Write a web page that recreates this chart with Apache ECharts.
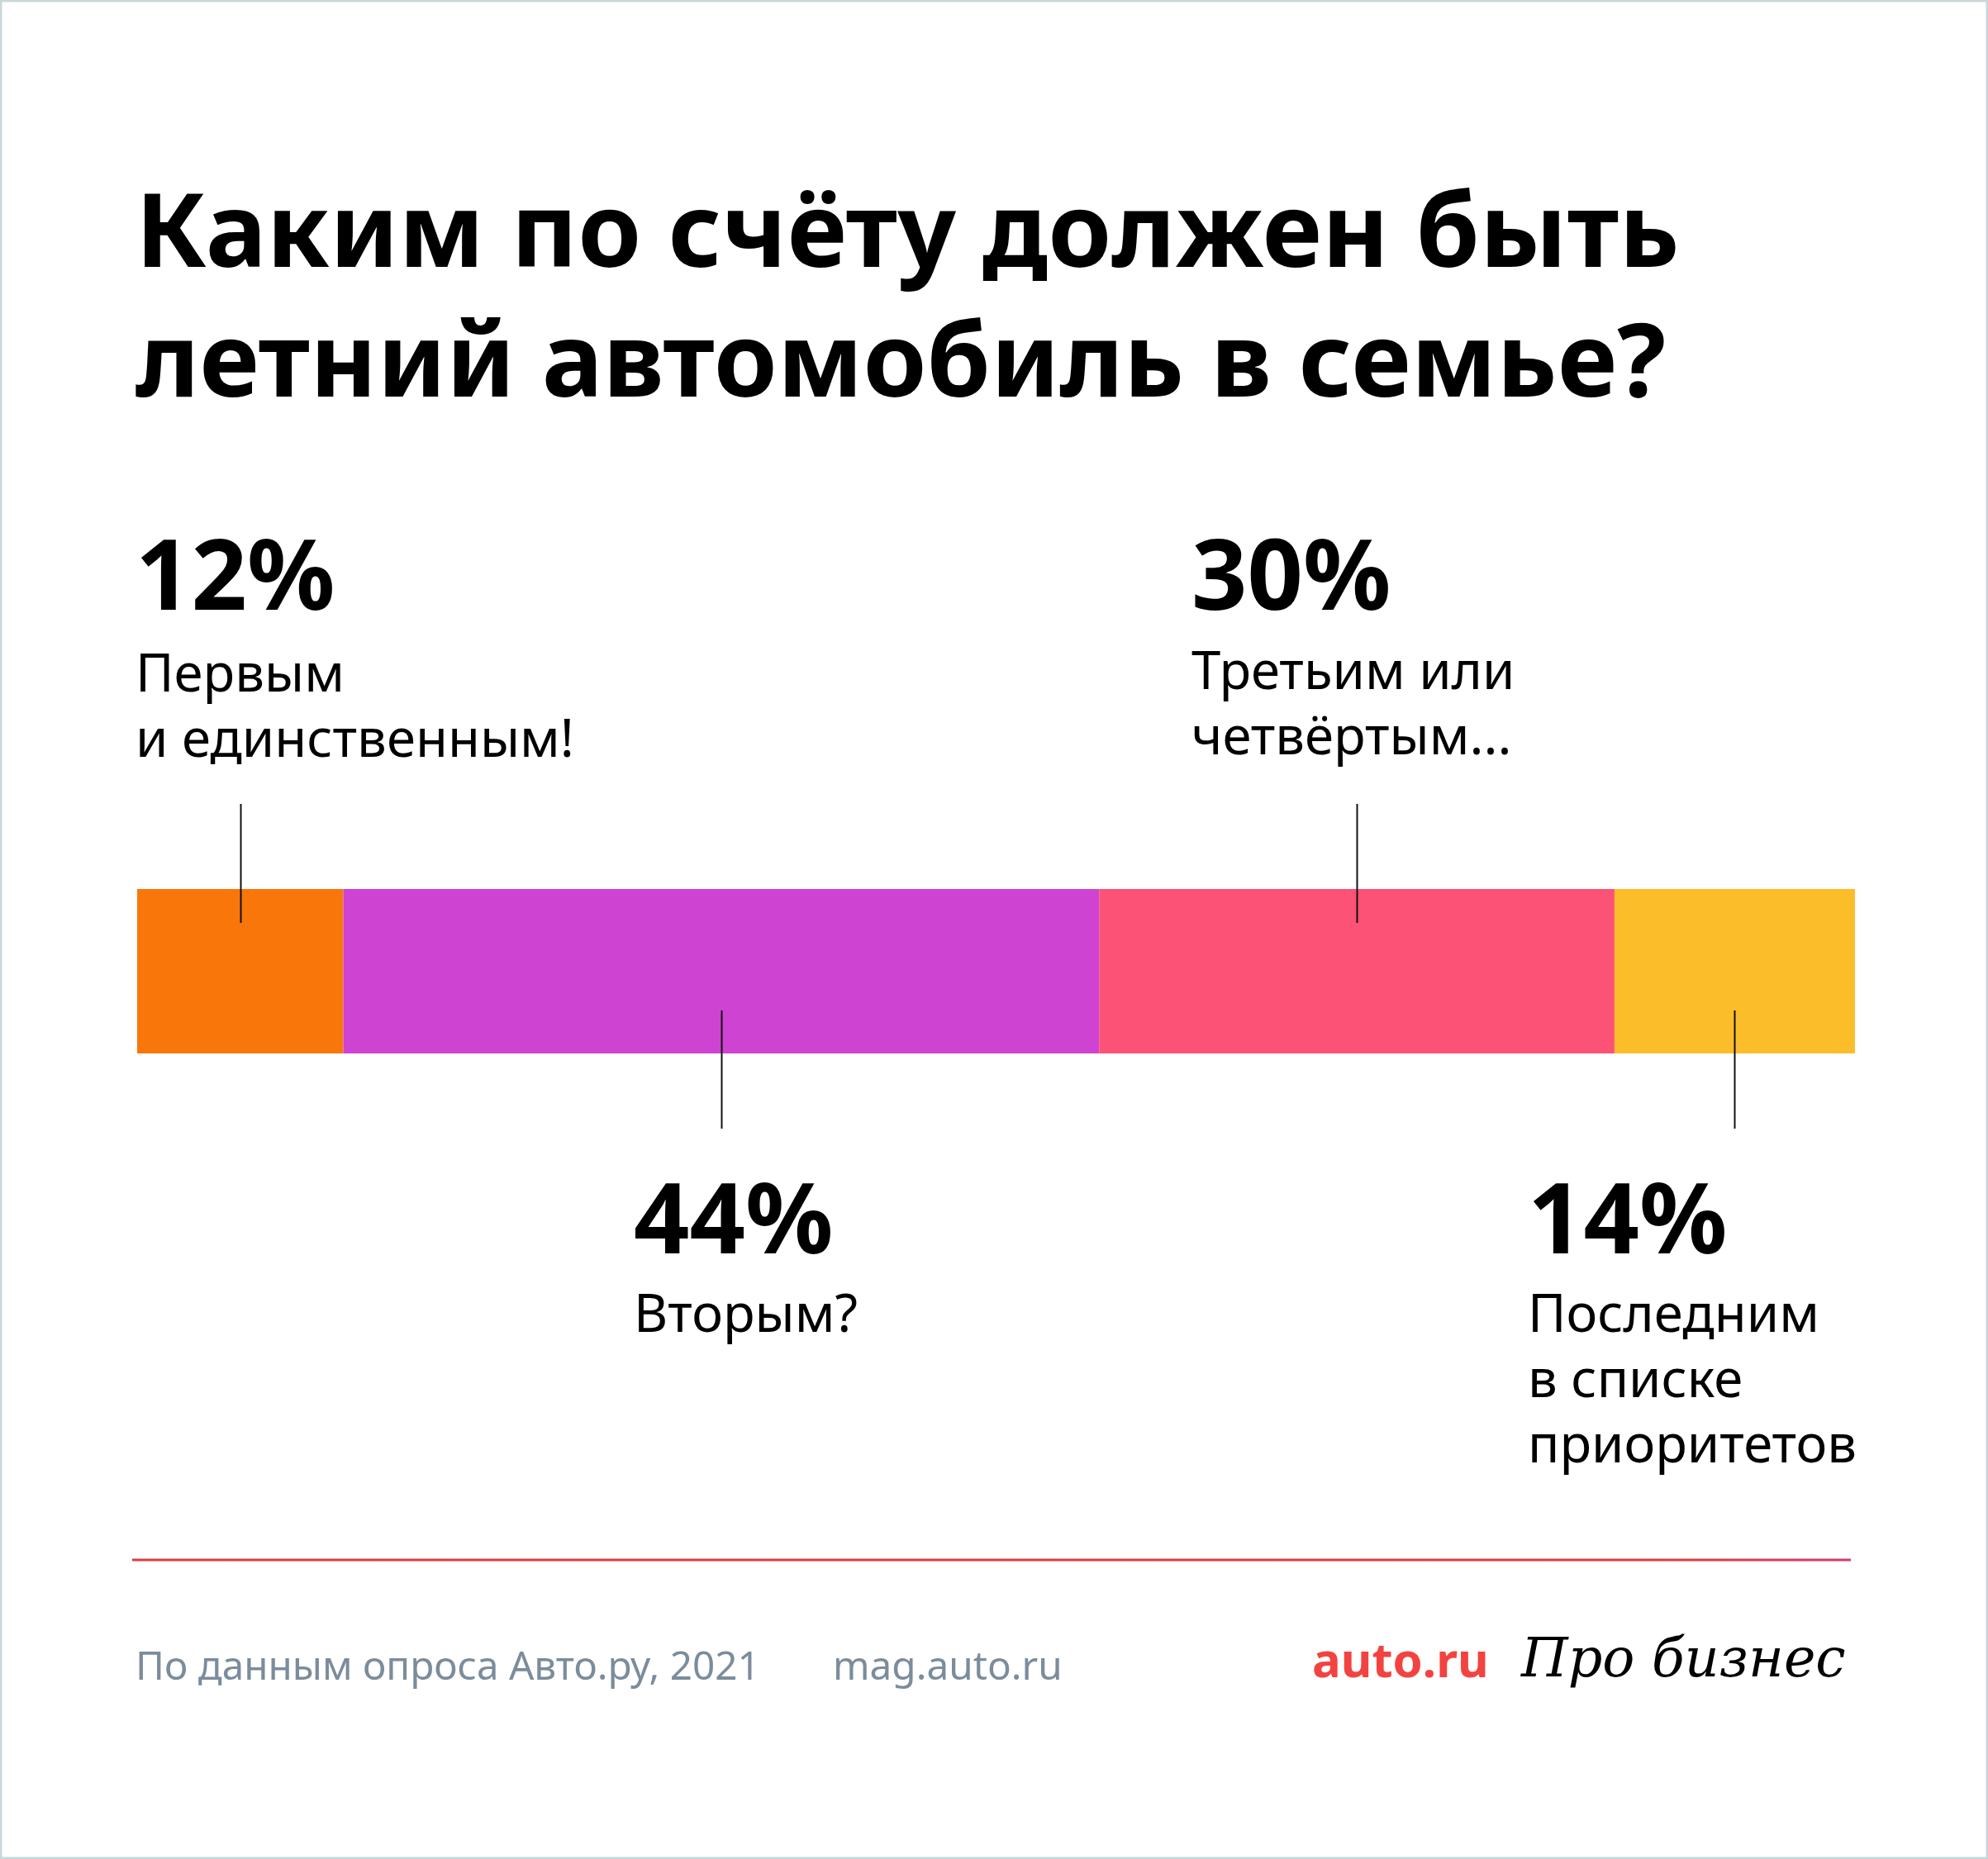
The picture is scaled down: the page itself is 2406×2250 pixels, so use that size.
<!DOCTYPE html>
<html><head><meta charset="utf-8">
<script src="https://cdn.jsdelivr.net/npm/echarts@6/dist/echarts.min.js"></script>
<style>html,body{margin:0;padding:0;background:#fff}#c{width:2406px;height:2250px}</style>
</head><body><div id="c"></div>
<script>
const categories = ['Первым и единственным!', 'Вторым?', 'Третьим или четвёртым...', 'Последним в списке приоритетов'];
const values = [12, 44, 30, 14];
const colors = ['#f9770a', '#cf43d2', '#fc5275', '#fcbd2a'];
const descLines = [['Первым', 'и единственным!'], ['Вторым?'], ['Третьим или', 'четвёртым...'], ['Последним', 'в списке', 'приоритетов']];
const labelSide = ['top', 'bottom', 'top', 'bottom'];

const chart = echarts.init(document.getElementById('c'));
const FONT = '"Noto Sans", sans-serif';

// leader-line anchor positions: segment centers on the value scale
const starts = [];
values.reduce((acc, v) => { starts.push(acc); return acc + v; }, 0);
const anchors = values.map((v, i) => [starts[i] + v / 2, 0, i]);

const series = values.map((v, i) => ({
  type: 'bar', stack: 'all', name: categories[i], data: [v],
  barWidth: '100%', itemStyle: { color: colors[i] }, silent: true
}));
series.push({
  type: 'custom', data: anchors, z: 10, silent: true,
  renderItem: function (params, api) {
    const cs = params.coordSys;
    const p = api.coord([api.value(0), 0]);
    const idx = api.value(2);
    const top = labelSide[idx] === 'top';
    const y1 = top ? cs.y - 103 : cs.y + cs.height - 52;
    const y2 = top ? cs.y + 41 : cs.y + cs.height + 91;
    return { type: 'line', shape: { x1: Math.round(p[0]) + 0.5, y1: y1, x2: Math.round(p[0]) + 0.5, y2: y2 },
      style: { stroke: '#111', lineWidth: 2 } };
  }
});

// annotation layout (left x, pct baseline, first desc baseline)
const annX = [164, 767, 1442, 1849];
const annPctY = [737, 1516, 737, 1516];
const annDescY = [836, 1611, 833, 1611];

const graphics = [];
function txt(text, x, baseline, size, weight, fill, family, style) {
  graphics.push({ type: 'text', left: x, top: baseline - size * 0.78, silent: true,
    style: { text: text, fill: fill || '#000', font: (style || 'normal') + ' ' + (weight || 400) + ' ' + size + 'px ' + (family || FONT),
      verticalAlign: 'top', lineHeight: size } });
}
txt('Каким по счёту должен быть', 164, 322, 124, 700);
txt('летний автомобиль в семье?', 164, 479, 124, 700);
values.forEach((v, i) => {
  txt(v + '%', annX[i], annPctY[i], 118, 700);
  descLines[i].forEach((l, j) => txt(l, annX[i], annDescY[i] + j * 79, 63.5, 400));
});
txt('По данным опроса Авто.ру, 2021', 164, 2033, 47.7, 400, '#7b8c9c');
txt('mag.auto.ru', 1008, 2033, 47.7, 400, '#7b8c9c');
txt('auto.ru', 1588, 2030, 58, 700, '#f34340');
txt('Про бизнес', 1841, 2030, 65, 400, '#000', '"DejaVu Serif", serif', 'italic');
graphics.push({ type: 'line', silent: true, shape: { x1: 160, y1: 1888, x2: 2240, y2: 1888 },
  style: { lineWidth: 3, stroke: new echarts.graphic.LinearGradient(0, 0, 1, 0, [
    { offset: 0, color: '#dd3b3f' }, { offset: 0.9, color: '#dd3b40' }, { offset: 1, color: '#d63a6a' }]) } });
graphics.push({ type: 'rect', silent: true, shape: { x: 1, y: 1, width: 2404, height: 2248 },
  style: { fill: null, stroke: '#c9d7d8', lineWidth: 3 } });

chart.setOption({
  backgroundColor: '#ffffff',
  animation: false,
  grid: { left: 166, top: 1076, width: 2079, height: 199 },
  xAxis: { type: 'value', min: 0, max: 100, show: false },
  yAxis: { type: 'category', data: ['summer'], show: false },
  series: series,
  graphic: graphics
});
</script></body></html>
